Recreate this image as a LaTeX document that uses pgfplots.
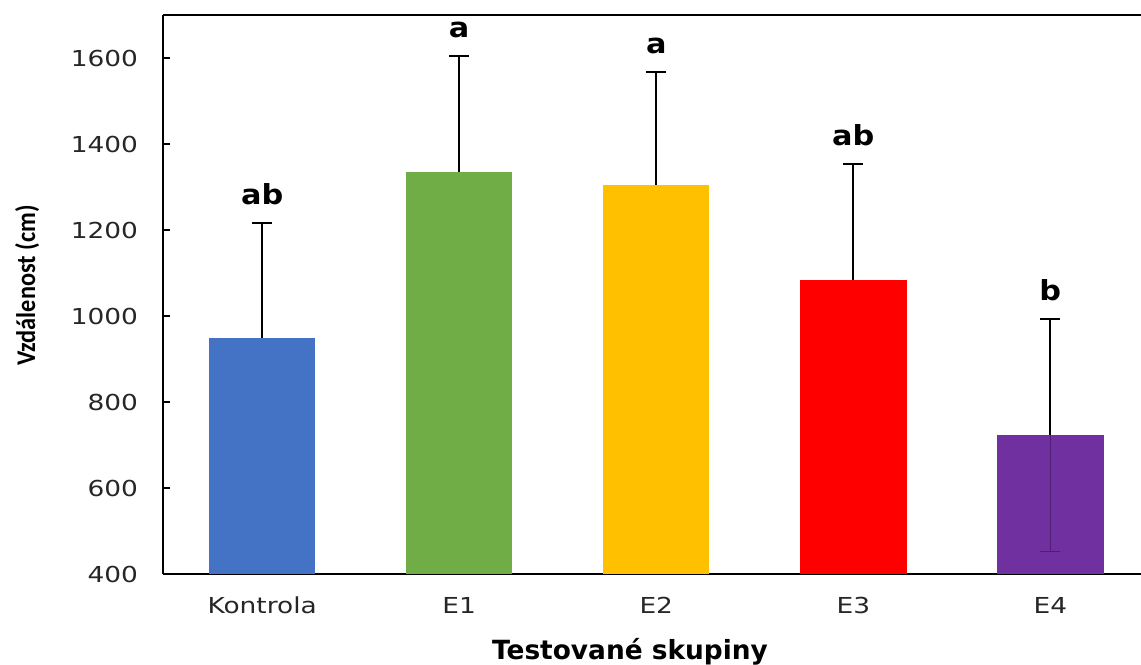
\documentclass[border=0pt]{standalone}
\usepackage{fontspec}
\setmainfont{DejaVu Sans}
\newfontfamily\tickfont{DejaVu Sans}[FakeStretch=1.2]
\newfontfamily\letfont{DejaVu Sans}[FakeStretch=1.1]
\newfontfamily\ylabfont{Carlito}[FakeStretch=0.9]
\usepackage{pgfplots}
\pgfplotsset{compat=1.18}
\definecolor{cblue}{HTML}{4472C4}
\definecolor{cgreen}{HTML}{70AD47}
\definecolor{cgold}{HTML}{FFC000}
\definecolor{cred}{HTML}{FF0000}
\definecolor{cpurple}{HTML}{7030A0}
\definecolor{cdpurple}{HTML}{4E1F75}
\begin{document}
\begin{tikzpicture}
\begin{axis}[
  scale only axis, width=488.9pt, height=279.5pt,
  xmin=-0.503, xmax=4.46, ymin=400, ymax=1700,
  axis x line=box, axis y line=left,
  axis line style={-, line width=0.9pt, black},
  xtick={0,1,2,3,4}, xticklabels={Kontrola,E1,E2,E3,E4},
  xtick style={draw=none},
  ytick={400,600,800,1000,1200,1400,1600},
  ytick style={line width=0.8pt, black},
  tick align=inside, major tick length=3.5pt,
  /pgf/number format/assume math mode=true,
  /pgf/number format/1000 sep={},
  tick label style={font=\tickfont\fontsize{11}{13}\selectfont, text=black!85},
  xticklabel style={yshift=-8pt},
  yticklabel style={xshift=-9pt},
  xlabel={Testované skupiny},
  ylabel={Vzdálenost (cm)},
  every axis x label/.style={at={(axis description cs:0.4775,-0.152)}, anchor=base, font=\bfseries\fontsize{13.2}{15}\selectfont},
  every axis y label/.style={at={(axis description cs:-0.139,0.516)}, anchor=center, rotate=90, font=\ylabfont\bfseries\fontsize{13.5}{15}\selectfont},
  error bars/error bar style={draw=black, line width=0.9pt},
  error bars/error mark options={draw=black, line width=0.9pt, mark size=5pt, rotate=90},
]
\addplot[ybar, bar width=0.54, bar shift=0pt, fill=cblue, draw=none,
  error bars/.cd, y dir=plus, y explicit] coordinates {(0,950) +- (0,266)};
\addplot[ybar, bar width=0.54, bar shift=0pt, fill=cgreen, draw=none,
  error bars/.cd, y dir=plus, y explicit] coordinates {(1,1335) +- (0,269)};
\addplot[ybar, bar width=0.54, bar shift=0pt, fill=cgold, draw=none,
  error bars/.cd, y dir=plus, y explicit] coordinates {(2,1305) +- (0,262)};
\addplot[ybar, bar width=0.54, bar shift=0pt, fill=cred, draw=none,
  error bars/.cd, y dir=plus, y explicit] coordinates {(3,1083) +- (0,271)};
\addplot[ybar, bar width=0.54, bar shift=0pt, fill=cpurple, draw=none,
  error bars/.cd, y dir=plus, y explicit] coordinates {(4,723) +- (0,270)};
\addplot[ybar, bar width=0.54, bar shift=0pt, fill=none, draw=none,
  error bars/.cd, y dir=minus, y explicit,
  error bar style={draw=cdpurple, line width=0.6pt},
  error mark options={draw=cdpurple, line width=0.6pt, mark size=5pt, rotate=90}]
  coordinates {(4,723) +- (0,270)};
\addplot[only marks, mark=*, mark size=0pt, nodes near coords, point meta=explicit symbolic,
  nodes near coords style={font=\letfont\bfseries\fontsize{13.8}{16}\selectfont, anchor=south, inner sep=0pt, yshift=9pt, black}]
  table[meta=lab] {
x y lab
0 1216 ab
1 1604 a
2 1567 a
3 1354 ab
4 993 b
};
\end{axis}
\pgfresetboundingbox
\path ([xshift=-81.5pt,yshift=-45pt]current axis.south west) rectangle ([yshift=7.5pt]current axis.north east);
\end{tikzpicture}
\end{document}
